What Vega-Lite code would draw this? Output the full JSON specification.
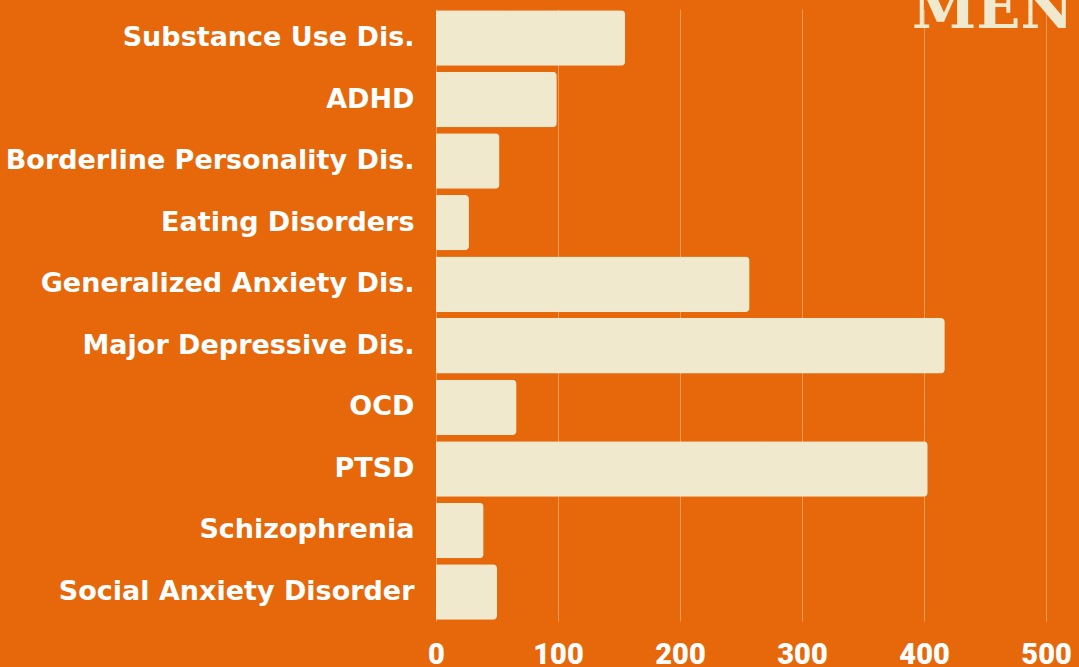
{
  "$schema": "https://vega.github.io/schema/vega-lite/v6.json",
  "autosize": {"type": "none"},
  "padding": {"left": 436, "top": 9, "right": 0, "bottom": 46},
  "width": 643,
  "height": 612,
  "background": "#E6680A",
  "title": {
    "text": "MENTAL HEALTH",
    "anchor": "start",
    "frame": "group",
    "orient": "top",
    "baseline": "alphabetic",
    "offset": 0,
    "dx": 476,
    "dy": 77,
    "font": "DejaVu Serif",
    "fontSize": 58,
    "fontWeight": "bold",
    "color": "#F0E9CE"
  },
  "data": {
    "values": [
      {"disorder": "Substance Use Dis.", "count": 155},
      {"disorder": "ADHD", "count": 99},
      {"disorder": "Borderline Personality Dis.", "count": 52},
      {"disorder": "Eating Disorders", "count": 27},
      {"disorder": "Generalized Anxiety Dis.", "count": 257},
      {"disorder": "Major Depressive Dis.", "count": 417},
      {"disorder": "OCD", "count": 66},
      {"disorder": "PTSD", "count": 403},
      {"disorder": "Schizophrenia", "count": 39},
      {"disorder": "Social Anxiety Disorder", "count": 50}
    ]
  },
  "mark": {"type": "bar", "color": "#F0E9CE", "cornerRadiusEnd": 4},
  "encoding": {
    "y": {
      "field": "disorder",
      "type": "nominal",
      "sort": null,
      "scale": {"paddingInner": 0.1, "paddingOuter": 0.02},
      "axis": {
        "title": null,
        "ticks": false,
        "domain": false,
        "labelPadding": 22,
        "labelFont": "DejaVu Sans",
        "labelFontSize": 27,
        "labelFontWeight": "bold",
        "labelColor": "#FFFFFF",
        "labelLimit": 500
      }
    },
    "x": {
      "field": "count",
      "type": "quantitative",
      "scale": {"domain": [0, 527], "nice": false},
      "axis": {
        "title": null,
        "values": [0, 100, 200, 300, 400, 500],
        "ticks": false,
        "domain": false,
        "labelFlush": false,
        "labelPadding": 42,
        "labelFont": "Roboto",
        "labelFontSize": 29,
        "labelFontWeight": 900,
        "labelColor": "#FFFFFF",
        "labelBaseline": "alphabetic",
        "gridColor": "#F29A55",
        "gridOpacity": 1,
        "gridWidth": 1
      }
    }
  },
  "config": {"view": {"stroke": null}}
}
